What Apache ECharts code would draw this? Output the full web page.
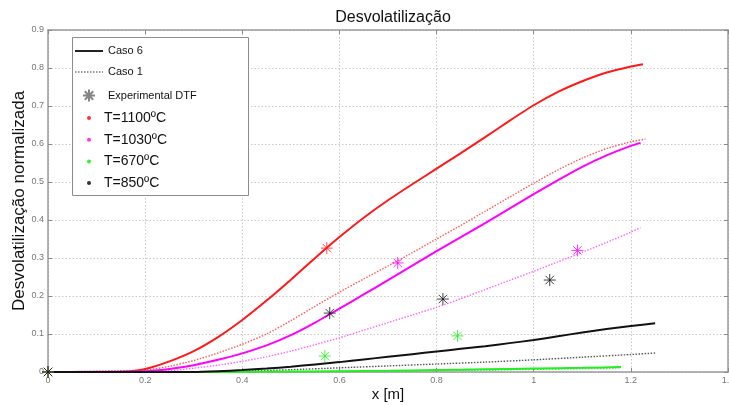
<!DOCTYPE html>
<html>
<head>
<meta charset="utf-8">
<script src="https://cdn.jsdelivr.net/npm/echarts@6/dist/echarts.min.js"></script>
<style>
  html, body { margin: 0; padding: 0; background: #fff; }
  #chart { width: 729px; height: 405px; }
</style>
</head>
<body>
<div id="chart"></div>
<script>
// Curvas simuladas (Caso 6 = linha cheia, Caso 1 = pontilhada)
const x1100c6 = [0, 0.15, 0.2, 0.25, 0.3, 0.35, 0.4, 0.45, 0.5, 0.55, 0.6, 0.65, 0.7, 0.75, 0.8, 0.85, 0.9, 0.95, 1.0, 1.05, 1.1, 1.15, 1.2, 1.225];
const y1100c6 = [0, 0, 0.008, 0.028, 0.055, 0.092, 0.137, 0.188, 0.243, 0.3, 0.355, 0.406, 0.452, 0.494, 0.535, 0.576, 0.618, 0.661, 0.702, 0.737, 0.765, 0.788, 0.804, 0.81];

const x1100c1 = [0, 0.2, 0.25, 0.3, 0.35, 0.4, 0.45, 0.5, 0.55, 0.6, 0.65, 0.7, 0.75, 0.8, 0.85, 0.9, 0.95, 1.0, 1.05, 1.1, 1.15, 1.2, 1.23];
const y1100c1 = [0, 0.005, 0.015, 0.03, 0.05, 0.073, 0.1, 0.135, 0.173, 0.21, 0.245, 0.279, 0.314, 0.35, 0.386, 0.423, 0.46, 0.497, 0.532, 0.563, 0.588, 0.606, 0.613];

const x1030c6 = [0, 0.2, 0.25, 0.3, 0.35, 0.4, 0.45, 0.5, 0.55, 0.6, 0.65, 0.7, 0.75, 0.8, 0.85, 0.9, 0.95, 1.0, 1.05, 1.1, 1.15, 1.2, 1.22];
const y1030c6 = [0, 0.002, 0.008, 0.018, 0.032, 0.049, 0.07, 0.097, 0.13, 0.167, 0.204, 0.242, 0.28, 0.318, 0.355, 0.392, 0.43, 0.468, 0.505, 0.54, 0.57, 0.595, 0.603];

const x1030c1 = [0, 0.25, 0.3, 0.35, 0.4, 0.45, 0.5, 0.55, 0.6, 0.65, 0.7, 0.75, 0.8, 0.85, 0.9, 0.95, 1.0, 1.05, 1.1, 1.15, 1.2, 1.22];
const y1030c1 = [0, 0.003, 0.01, 0.018, 0.028, 0.04, 0.055, 0.072, 0.09, 0.11, 0.13, 0.15, 0.17, 0.193, 0.217, 0.241, 0.265, 0.29, 0.315, 0.341, 0.368, 0.38];

const x850c6 = [0, 0.3, 0.35, 0.4, 0.45, 0.5, 0.55, 0.6, 0.65, 0.7, 0.75, 0.8, 0.85, 0.9, 0.95, 1.0, 1.05, 1.1, 1.15, 1.2, 1.25];
const y850c6 = [0, 0, 0.002, 0.005, 0.009, 0.014, 0.02, 0.026, 0.033, 0.04, 0.047, 0.054, 0.061, 0.068, 0.076, 0.084, 0.094, 0.104, 0.113, 0.121, 0.128];

const x850c1 = [0, 0.35, 0.4, 0.5, 0.6, 0.7, 0.8, 0.9, 1.0, 1.1, 1.2, 1.25];
const y850c1 = [0, 0, 0.002, 0.006, 0.011, 0.016, 0.021, 0.026, 0.032, 0.039, 0.046, 0.05];

const x670c6 = [0, 0.35, 0.5, 0.6, 0.7, 0.8, 0.9, 1.0, 1.1, 1.18];
const y670c6 = [0, 0, 0.001, 0.002, 0.003, 0.005, 0.007, 0.009, 0.011, 0.013];

const x670c1 = [0, 0.4, 0.5, 0.6, 0.7, 0.8, 0.9, 1.0, 1.1, 1.18];
const y670c1 = [0, 0, 0.001, 0.002, 0.003, 0.004, 0.005, 0.007, 0.009, 0.011];

// Pontos experimentais (DTF)
const xExp1100 = [0, 0.574];
const yExp1100 = [0, 0.326];
const xExp1030 = [0, 0.72, 1.09];
const yExp1030 = [0, 0.287, 0.32];
const xExp850 = [0, 0.58, 0.813, 1.033];
const yExp850 = [0, 0.155, 0.192, 0.242];
const xExp670 = [0, 0.57, 0.843];
const yExp670 = [0, 0.042, 0.095];

const xTicks = { min: 0, max: 1.4, interval: 0.2 };
const yTicks = { min: 0, max: 0.9, interval: 0.1 };

const legendMain = ['Caso 6', 'Caso 1', 'Experimental DTF'];
const legendTemps = ['T=1100ºC', 'T=1030ºC', 'T=670ºC', 'T=850ºC'];

const FONT = 'Liberation Sans, Arial, sans-serif';
const STAR = 'path://M0,5L10,5M5,0L5,10M1.5,1.5L8.5,8.5M8.5,1.5L1.5,8.5';

function pairs(xs, ys) {
  return xs.map((x, i) => [x, ys[i]]);
}

function curve(name, xs, ys, color, dotted) {
  return {
    name: name,
    type: 'line',
    data: pairs(xs, ys),
    smooth: 0.2,
    symbol: 'none',
    silent: true,
    lineStyle: dotted
      ? { color: color, width: 1.4, type: [1.5, 1.5] }
      : { color: color, width: 2 },
    z: dotted ? 3 : 4
  };
}

function stars(name, xs, ys, color) {
  return {
    name: name,
    type: 'scatter',
    data: pairs(xs, ys),
    symbol: STAR,
    symbolSize: 12,
    symbolKeepAspect: true,
    itemStyle: { color: 'none', borderColor: color, borderWidth: 1 },
    z: 6
  };
}

const chart = echarts.init(document.getElementById('chart'));

const axisCommon = {
  axisLine: { show: true, onZero: false, lineStyle: { color: '#9a9a9a', width: 1.5 } },
  axisTick: { show: true, inside: true, length: 4, lineStyle: { color: '#8a8a8a' } },
  splitLine: { show: false },
  axisLabel: { show: false }
};

const option = {
  animation: false,
  backgroundColor: '#fff',
  title: {
    text: 'Desvolatilização',
    left: 388,
    textAlign: 'center',
    top: 5,
    textStyle: { fontFamily: FONT, fontSize: 16, fontWeight: 'normal', color: '#111' }
  },
  grid: { left: 48, right: 1, top: 30, bottom: 33, outerBoundsMode: 'none' },
  xAxis: [
    {
      type: 'value', min: xTicks.min, max: xTicks.max, interval: xTicks.interval,
      name: 'x [m]', nameLocation: 'middle', nameGap: 15, nameMoveOverlap: false,
      nameTextStyle: { fontFamily: FONT, fontSize: 15, color: '#111' },
      axisLine: { onZero: false, lineStyle: { color: '#9a9a9a', width: 1.5 } },
      axisTick: { inside: true, length: 4, lineStyle: { color: '#8a8a8a' } },
      axisLabel: { fontFamily: FONT, fontSize: 9, color: '#777', margin: 4, showMaxLabel: true },
      splitLine: { show: true, lineStyle: { color: '#c8c8c8', type: [1.5, 2] } }
    },
    Object.assign({ type: 'value', position: 'top', min: xTicks.min, max: xTicks.max, interval: xTicks.interval }, axisCommon)
  ],
  yAxis: [
    {
      type: 'value', min: yTicks.min, max: yTicks.max, interval: yTicks.interval,
      name: 'Desvolatilização normalizada', nameLocation: 'middle', nameGap: 20, nameMoveOverlap: false,
      nameTextStyle: { fontFamily: FONT, fontSize: 17, color: '#111' },
      axisLine: { onZero: false, lineStyle: { color: '#9a9a9a', width: 1.5 } },
      axisTick: { inside: true, length: 4, lineStyle: { color: '#8a8a8a' } },
      axisLabel: { fontFamily: FONT, fontSize: 9, color: '#777', margin: 4 },
      splitLine: { show: true, lineStyle: { color: '#c8c8c8', type: [1.5, 2] } }
    },
    Object.assign({ type: 'value', position: 'right', min: yTicks.min, max: yTicks.max, interval: yTicks.interval }, axisCommon)
  ],
  graphic: [
    {
      type: 'rect', left: 72, top: 37, z: 10,
      shape: { width: 176, height: 158 },
      style: { fill: '#fff', stroke: '#8c8c8c', lineWidth: 1 }
    }
  ],
  legend: [
    {
      data: legendMain.map((n, i) => (i < 2 ? { name: n, itemStyle: { opacity: 0 } } : { name: n })),
      orient: 'vertical', left: 74, top: 45, z: 12, padding: 0,
      itemWidth: 28, itemHeight: 12, itemGap: 9,
      selectedMode: false,
      textStyle: { fontFamily: FONT, fontSize: 11, color: '#111', lineHeight: 12 }
    },
    {
      data: legendTemps,
      orient: 'vertical', left: 87, top: 111, z: 12, padding: 0,
      itemWidth: 20, itemHeight: 4, itemGap: 7.7,
      selectedMode: false,
      textStyle: { fontFamily: FONT, fontSize: 14, color: '#111', lineHeight: 14 }
    }
  ],
  series: [
    // entradas de legenda
    { name: 'Caso 6', type: 'line', data: [], symbol: 'none', lineStyle: { color: '#222', width: 1.5 }, itemStyle: { color: 'transparent' } },
    { name: 'Caso 1', type: 'line', data: [], symbol: 'none', lineStyle: { color: '#999', width: 1.2, type: [1.5, 1.5] }, itemStyle: { color: 'transparent' } },
    { name: 'Experimental DTF', type: 'scatter', data: [], symbol: STAR, symbolKeepAspect: true, itemStyle: { color: 'none', borderColor: '#666', borderWidth: 1 } },
    { name: 'T=1100ºC', type: 'scatter', data: [], symbol: 'circle', itemStyle: { color: '#ff0000' } },
    { name: 'T=1030ºC', type: 'scatter', data: [], symbol: 'circle', itemStyle: { color: '#ff00ff' } },
    { name: 'T=670ºC', type: 'scatter', data: [], symbol: 'circle', itemStyle: { color: '#00ee00' } },
    { name: 'T=850ºC', type: 'scatter', data: [], symbol: 'circle', itemStyle: { color: '#000' } },

    curve('c1-1100', x1100c1, y1100c1, '#ff5a5a', true),
    curve('c1-1030', x1030c1, y1030c1, '#ff66ff', true),
    curve('c1-850', x850c1, y850c1, '#555', true),
    curve('c1-670', x670c1, y670c1, '#33dd33', true),
    curve('c6-1100', x1100c6, y1100c6, '#ff1a1a', false),
    curve('c6-1030', x1030c6, y1030c6, '#ff00ff', false),
    curve('c6-670', x670c6, y670c6, '#22ee22', false),
    curve('c6-850', x850c6, y850c6, '#111', false),

    stars('e-1100', xExp1100, yExp1100, '#ff2020'),
    stars('e-1030', xExp1030, yExp1030, '#ff00ff'),
    stars('e-670', xExp670, yExp670, '#22ee22'),
    stars('e-850', xExp850, yExp850, '#111')
  ]
};

chart.setOption(option);
</script>
</body>
</html>
